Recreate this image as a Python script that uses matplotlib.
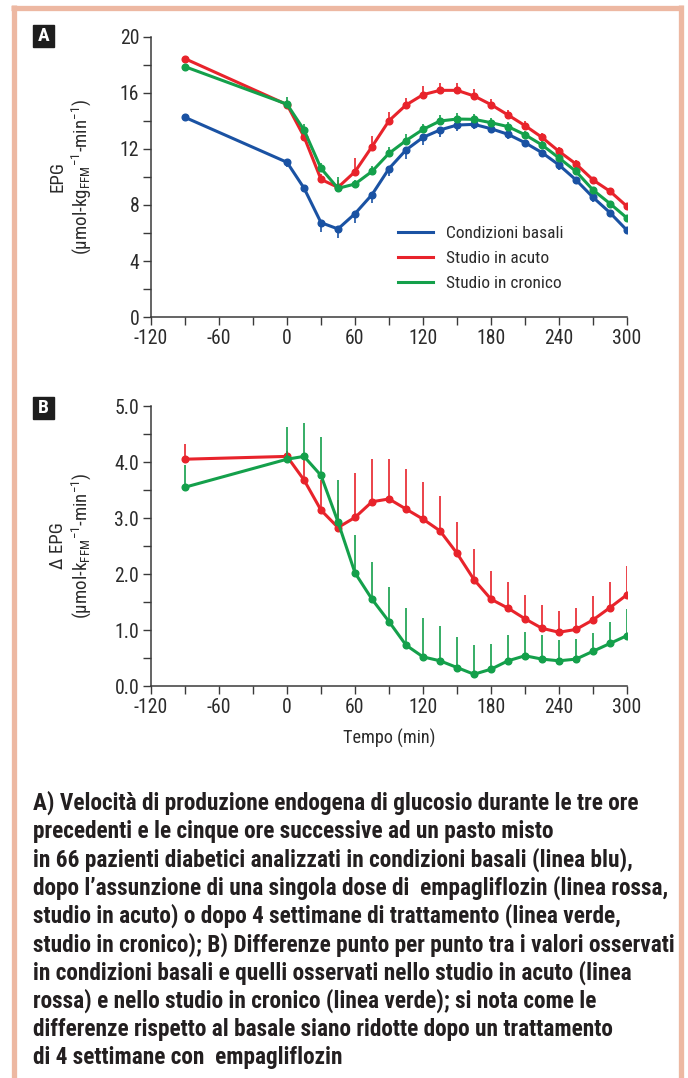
import matplotlib
matplotlib.use("Agg")
import matplotlib.pyplot as plt
from matplotlib.lines import Line2D
from matplotlib.patches import Rectangle
from matplotlib import font_manager

# ---------------- data ----------------
times = [-90, 0, 15, 30, 45, 60, 75, 90, 105, 120, 135, 150, 165, 180, 195,
         210, 225, 240, 255, 270, 285, 300]

basal = [14.26, 11.05, 9.21, 6.74, 6.29, 7.38, 8.74, 10.6, 11.93, 12.83, 13.36,
         13.71, 13.76, 13.45, 13.05, 12.45, 11.74, 10.86, 9.79, 8.55, 7.45, 6.19]
basal_err = [0.0, 0.3, 0.3, 0.65, 0.65, 0.7, 0.6, 0.55, 0.65, 0.55, 0.5, 0.4,
             0.35, 0.3, 0.3, 0.3, 0.3, 0.35, 0.3, 0.3, 0.25, 0.2]

acute = [18.45, 15.17, 12.88, 9.83, 9.26, 10.38, 12.17, 14.02, 15.14, 15.88, 16.19,
         16.19, 15.79, 15.17, 14.43, 13.67, 12.83, 11.83, 10.93, 9.79, 8.98, 7.9]
acute_err = [0.0, 0.3, 0.4, 0.4, 0.5, 0.95, 0.76, 0.6, 0.5, 0.6, 0.5, 0.5, 0.48,
             0.4, 0.35, 0.3, 0.3, 0.3, 0.25, 0.2, 0.2, 0.15]

chronic = [17.88, 15.2, 13.36, 10.62, 9.19, 9.5, 10.4, 11.69, 12.6, 13.4, 14.0,
           14.14, 14.12, 13.88, 13.6, 13.02, 12.29, 11.36, 10.4, 9.07, 8.1, 7.07]
chronic_err = [0.0, 0.5, 0.4, 0.4, 0.8, 0.3, 0.4, 0.45, 0.5, 0.4, 0.4, 0.4, 0.35,
               0.3, 0.3, 0.3, 0.3, 0.3, 0.3, 0.2, 0.2, 0.15]

d_acute = [4.05, 4.10, 3.68, 3.14, 2.83, 3.01, 3.29, 3.34, 3.16, 2.98, 2.77, 2.37,
           1.90, 1.55, 1.39, 1.20, 1.03, 0.96, 1.01, 1.18, 1.40, 1.63]
d_acute_err = [0.28, 0.1, 0.45, 0.54, 0.5, 0.8, 0.76, 0.71, 0.72, 0.67, 0.62, 0.56,
               0.54, 0.50, 0.46, 0.43, 0.42, 0.38, 0.38, 0.42, 0.45, 0.52]

d_chronic = [3.55, 4.05, 4.10, 3.76, 2.93, 2.02, 1.55, 1.15, 0.73, 0.52, 0.45, 0.33,
             0.21, 0.30, 0.45, 0.54, 0.48, 0.45, 0.48, 0.62, 0.76, 0.90]
d_chronic_err = [0.40, 0.58, 0.59, 0.68, 0.75, 0.68, 0.66, 0.61, 0.66, 0.69, 0.62,
                 0.54, 0.52, 0.45, 0.46, 0.43, 0.43, 0.37, 0.36, 0.32, 0.39, 0.475]

labels = ["Condizioni basali", "Studio in acuto", "Studio in cronico"]
xticks_major = [-120, -60, 0, 60, 120, 180, 240, 300]
xticks_minor = [-90, -30, 30, 90, 150, 210, 270]
yticks_a = [0, 4, 8, 12, 16, 20]
yticks_b = [0.0, 1.0, 2.0, 3.0, 4.0, 5.0]

caption = [
    "A) Velocità di produzione endogena di glucosio durante le tre ore",
    "precedenti e le cinque ore successive ad un pasto misto",
    "in 66 pazienti diabetici analizzati in condizioni basali (linea blu),",
    "dopo l’assunzione di una singola dose di  empagliflozin (linea rossa,",
    "studio in acuto) o dopo 4 settimane di trattamento (linea verde,",
    "studio in cronico); B) Differenze punto per punto tra i valori osservati",
    "in condizioni basali e quelli osservati nello studio in acuto (linea",
    "rossa) e nello studio in cronico (linea verde); si nota come le",
    "differenze rispetto al basale siano ridotte dopo un trattamento",
    "di 4 settimane con  empagliflozin",
]

# ---------------- fonts ----------------
fl = font_manager.fontManager.ttflist
names = {f.name for f in fl}


def has_bold(name):
    return any(f.name == name and isinstance(f.weight, int) and f.weight >= 700
               and "[" not in f.fname for f in fl)


pref = ["Roboto Condensed", "PT Sans Narrow", "Fira Sans Condensed",
        "IBM Plex Sans Condensed", "Asap Condensed", "Barlow Semi Condensed",
        "Barlow Condensed", "Liberation Sans"]
COND = next((n for n in pref if n in names and has_bold(n)), "DejaVu Sans")

plt.rcParams['font.family'] = [COND, 'DejaVu Sans']
plt.rcParams['mathtext.fontset'] = 'custom'
plt.rcParams['mathtext.rm'] = COND
plt.rcParams['mathtext.it'] = COND
plt.rcParams['mathtext.bf'] = COND + ':bold'

BLUE = "#1a52a3"
RED = "#e8232b"
GREEN = "#14a04b"
AX = "#3a3a3a"
TXT = "#2b2b2b"
FRAME = "#edb8a2"

W, H = 688, 1078
fig = plt.figure(figsize=(W / 100, H / 100), dpi=100)
renderer = fig.canvas.get_renderer()


def text_width(s, size, weight="normal"):
    t = fig.text(0, 0, s, fontsize=size, fontweight=weight)
    bb = t.get_window_extent(renderer)
    t.remove()
    return bb.width


def fit_size(s, target_px, weight="normal"):
    return 10 * target_px / text_width(s, 10, weight)


def fx(px):
    return px / W


def fy(py):
    return 1 - py / H


TICK_FS = fit_size("300", 29)
LEG_FS = fit_size("Condizioni basali", 117)
XL_FS = fit_size("Tempo (min)", 92)
YL_FS = fit_size("EPG", 31)
CAP_FS = min(fit_size(caption[0], 639, "bold"),
             min(fit_size(s, 642, "bold") for s in caption))


def style_axes(ax):
    for s in ["top", "right"]:
        ax.spines[s].set_visible(False)
    for s in ["left", "bottom"]:
        ax.spines[s].set_color(AX)
        ax.spines[s].set_linewidth(1.1)
    ax.tick_params(which="both", direction="out", length=5.5, width=1.0,
                   color=AX, labelcolor=TXT, labelsize=TICK_FS, pad=3)
    ax.set_xlim(-120, 300)
    ax.set_xticks(xticks_major)
    ax.set_xticks(xticks_minor, minor=True)
    ax.set_xticklabels([str(v) for v in xticks_major])


LW = 2.2
MS = 4.8
zeros = [0] * len(times)

# ---------------- Panel A ----------------
axA = fig.add_axes([fx(151), fy(317), fx(627) - fx(151), (317 - 37) / H])
style_axes(axA)
axA.set_ylim(0, 20)
axA.set_yticks(yticks_a)
axA.set_yticks([2, 6, 10, 14, 18], minor=True)
axA.set_yticklabels([str(v) for v in yticks_a])

axA.errorbar(times, basal, yerr=[basal_err, zeros], color=BLUE, lw=LW, marker="o",
             ms=MS, elinewidth=1.2, capsize=0, label=labels[0], zorder=3)
axA.errorbar(times, acute, yerr=[zeros, acute_err], color=RED, lw=LW, marker="o",
             ms=MS, elinewidth=1.2, capsize=0, label=labels[1], zorder=3)
axA.errorbar(times, chronic, yerr=[zeros, chronic_err], color=GREEN, lw=LW, marker="o",
             ms=MS, elinewidth=1.2, capsize=0, label=labels[2], zorder=4)

handle_px = 35
pad_px = 13
fs_px = LEG_FS * 100 / 72
handles = [Line2D([], [], color=c, lw=LW) for c in (BLUE, RED, GREEN)]
axA.legend(handles, labels, loc="upper left",
           bbox_to_anchor=((398 - 151) / (627 - 151), (317 - 226) / 280),
           frameon=False, fontsize=LEG_FS, handlelength=handle_px / fs_px,
           handletextpad=pad_px / fs_px, labelspacing=0.55, labelcolor=TXT,
           borderpad=0, borderaxespad=0)

fig.text(fx(58), fy(177), "EPG", rotation=90, ha="center", va="center",
         fontsize=YL_FS, color=TXT)
fig.text(fx(81), fy(177),
         r"(µmol-kg$_{\mathregular{FFM}}$$^{\mathregular{-1}}$-min$^{\mathregular{-1}}$)",
         rotation=90, ha="center", va="center", fontsize=YL_FS, color=TXT)

# ---------------- Panel B ----------------
axB = fig.add_axes([fx(151), fy(686), fx(627) - fx(151), (686 - 406) / H])
style_axes(axB)
axB.set_ylim(0, 5)
axB.set_yticks(yticks_b)
axB.set_yticks([0.5, 1.5, 2.5, 3.5, 4.5], minor=True)
axB.set_yticklabels([f"{v:.1f}" for v in yticks_b])

axB.errorbar(times, d_acute, yerr=[zeros, d_acute_err], color=RED, lw=LW, marker="o",
             ms=MS, elinewidth=1.2, capsize=0, zorder=3)
axB.errorbar(times, d_chronic, yerr=[zeros, d_chronic_err], color=GREEN, lw=LW,
             marker="o", ms=MS, elinewidth=1.2, capsize=0, zorder=4)
axB.set_xlabel("Tempo (min)", fontsize=XL_FS, color=TXT, labelpad=9)

fig.text(fx(58), fy(546), "Δ EPG", rotation=90, ha="center", va="center",
         fontsize=YL_FS, color=TXT)
fig.text(fx(81), fy(546),
         r"(µmol-k$_{\mathregular{FFM}}$$^{\mathregular{-1}}$-min$^{\mathregular{-1}}$)",
         rotation=90, ha="center", va="center", fontsize=YL_FS, color=TXT)

# ---------------- panel letters ----------------
for letter, ytop in (("A", 25), ("B", 397)):
    fig.patches.append(Rectangle((fx(33), fy(ytop + 22)), fx(21), 22 / H,
                                 transform=fig.transFigure, color="#1e1e1e", zorder=5))
    fig.text(fx(43.5), fy(ytop + 11), letter, ha="center", va="center", color="white",
             fontsize=14, fontweight="bold", zorder=6)

# ---------------- caption ----------------
for i, line in enumerate(caption):
    fig.text(fx(33), fy(803 + i * 28.3), line, ha="left", va="center",
             fontsize=CAP_FS, fontweight="bold", color="#231f20")

# ---------------- frame ----------------
fw = 3.8
fig.add_artist(Line2D([fx(13.5), fx(13.5)], [0, fy(5)], transform=fig.transFigure,
                      color=FRAME, lw=fw, solid_capstyle="butt"))
fig.add_artist(Line2D([fx(11), fx(683)], [fy(7.5), fy(7.5)], transform=fig.transFigure,
                      color=FRAME, lw=fw, solid_capstyle="butt"))
fig.add_artist(Line2D([fx(680.5), fx(680.5)], [0, fy(5)], transform=fig.transFigure,
                      color=FRAME, lw=fw, solid_capstyle="butt"))

fig.savefig("out.png", dpi=100)
